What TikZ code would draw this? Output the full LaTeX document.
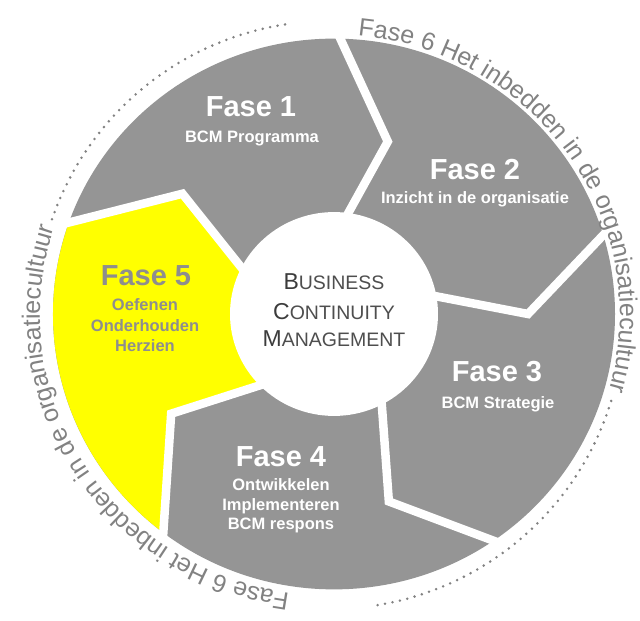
\documentclass[tikz,border=0pt]{standalone}
\usepackage{fontspec}
\newfontfamily\lsans{Liberation Sans}
\usetikzlibrary{decorations.text}
\definecolor{seggray}{HTML}{959595}
\definecolor{fyellow}{HTML}{FFFF00}
\definecolor{ffivetext}{HTML}{8E8E8E}
\definecolor{ringgray}{HTML}{828282}
\definecolor{bcmdark}{HTML}{3C3C3C}
\definecolor{bcmlight}{HTML}{4E4E4E}
\newcommand\fasefont{\lsans\bfseries\fontsize{29}{32}\selectfont}
\newcommand\subfont{\lsans\bfseries\fontsize{16.5}{19}\selectfont}
\newcommand\ringfont{\lsans\fontsize{25}{28}\selectfont}
\newcommand\bcmbig{\lsans\fontsize{23}{26}\selectfont}
\newcommand\bcmsmall{\lsans\fontsize{19.5}{22}\selectfont}
\begin{document}
\begin{tikzpicture}[x=1pt,y=1pt,
  fasetitle/.style={anchor=base, text=white, font=\fasefont, inner sep=0pt},
  fasesub/.style={anchor=base, text=white, font=\subfont, inner sep=0pt},
  gapline/.style={draw=white, line width=8.5pt},
  bcmline/.style={anchor=base, inner sep=0pt},
  ringtext/.style={decorate, decoration={text along path, text format delimiters={|}{|}, text color=ringgray, text={|\ringfont|Fase 6 Het inbedden in de organisatiecultuur}}},
  ringdots/.style={draw=ringgray, line width=2.8pt, line cap=round, dash pattern=on 0pt off 7.6pt}
]
\useasboundingbox (0,0) rectangle (640,621);
\fill[white] (0,0) rectangle (640,621);
% disk with segments
\begin{scope}[shift={(334,307)}, yscale=0.98]
  \fill[seggray] (0,0) circle[radius=281];
  \fill[fyellow] (161:281) arc[start angle=161, end angle=233, radius=281]
     -- (212:192) -- (231:90) -- (159:90) -- (141:195) -- cycle;
  \foreach \o/\a/\p/\i in {89/73/184/87, 17/0/194/15, -55/-74/199/-57, -127/-148/192/-129, 161/141/195/159}
    \draw[gapline] (\o:284) -- (\a:\p) -- (\i:85);
  \fill[white] (0,0) circle[radius=104];
\end{scope}
% segment texts
\node[fasetitle] (f1) at (251,504.5) {Fase 1};
\node[fasesub] (f1s) at (252,478.5) {BCM Programma};
\node[fasetitle] (f2) at (475,441.5) {Fase 2};
\node[fasesub] (f2s) at (475,417.5) {Inzicht in de organisatie};
\node[fasetitle] (f3) at (497,239) {Fase 3};
\node[fasesub] (f3s) at (498,212.5) {BCM Strategie};
\node[fasetitle] (f4) at (281,154) {Fase 4};
\node[fasesub] (f4a) at (281,130.5) {Ontwikkelen};
\node[fasesub] (f4b) at (281,110.5) {Implementeren};
\node[fasesub] (f4c) at (281,91.5) {BCM respons};
\node[fasetitle, text=ffivetext] (f5) at (146,335) {Fase 5};
\node[fasesub, text=ffivetext] (f5a) at (145,310.5) {Oefenen};
\node[fasesub, text=ffivetext] (f5b) at (145,289.5) {Onderhouden};
\node[fasesub, text=ffivetext] (f5c) at (145,269.5) {Herzien};
% centre
\node[bcmline] (bcma) at (334,331) {{\bcmbig\color{bcmdark}B}{\bcmsmall\color{bcmlight}USINESS}};
\node[bcmline] (bcmb) at (334,301) {{\bcmbig\color{bcmdark}C}{\bcmsmall\color{bcmlight}ONTINUITY}};
\node[bcmline] (bcmc) at (334,274) {{\bcmbig\color{bcmdark}M}{\bcmsmall\color{bcmlight}ANAGEMENT}};
% outer ring
\begin{scope}[shift={(330,306)}]
  \path[ringtext] (84.5:290 and 281) arc[start angle=84.5, end angle=-40, x radius=290, y radius=281];
  \path[ringtext] (-98:290 and 281) arc[start angle=-98, end angle=-222, x radius=290, y radius=281];
  \path[ringdots] (-17:294) arc[start angle=-17, end angle=-82, radius=294];
  \path[ringdots] (161:294) arc[start angle=161, end angle=98, radius=294];
\end{scope}
\end{tikzpicture}
\end{document}
